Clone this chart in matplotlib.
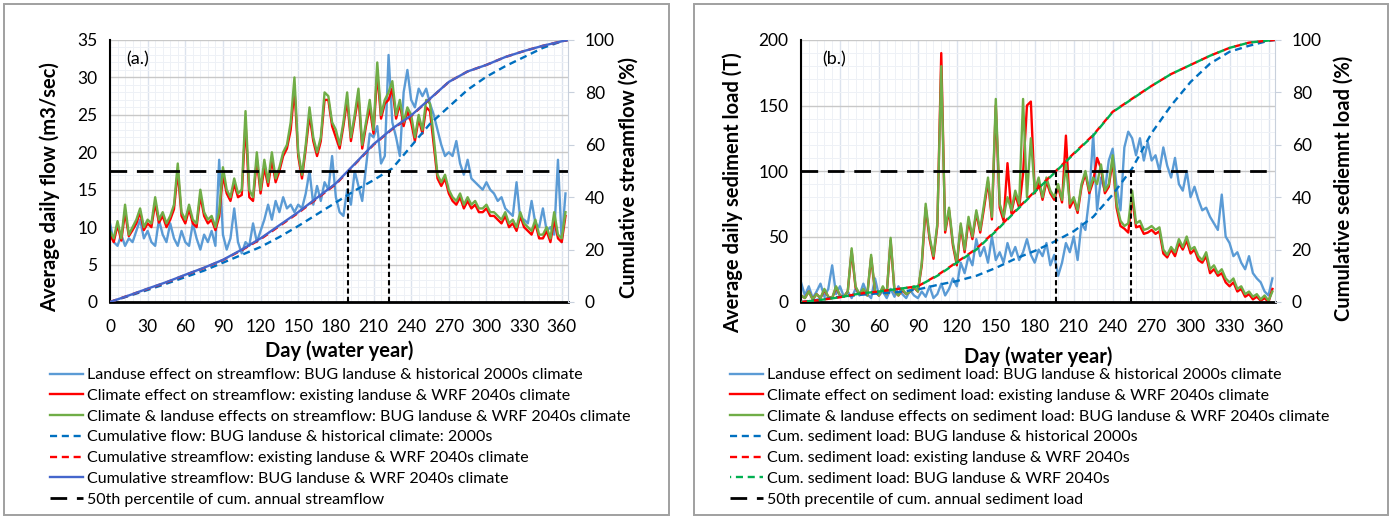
import numpy as np
import matplotlib.pyplot as plt
from matplotlib.patches import Rectangle
from matplotlib.ticker import MultipleLocator

plt.rcParams['font.family'] = ['Lato', 'DejaVu Sans']

# ---- data ----
days = np.arange(0, 366, 3)
cum_days = [0, 15, 30, 45, 60, 75, 90, 105, 120, 135, 150, 165, 180, 195, 210,
            225, 240, 255, 270, 285, 300, 315, 330, 345, 360, 365]

# panel (a) average daily flow, m3/sec
flow_landuse = [10.5, 8.0, 7.5, 9.0, 7.5, 8.5, 8.0, 9.5, 11.0, 8.5,
                9.5, 8.0, 7.5, 11.0, 9.0, 8.0, 10.5, 8.5, 7.5, 9.5,
                8.0, 7.5, 10.5, 8.5, 7.0, 9.0, 8.0, 9.5, 7.5, 19.0,
                9.0, 7.0, 8.5, 12.5, 8.0, 6.5, 8.0, 7.5, 10.5, 8.0,
                9.5, 11.0, 13.0, 11.0, 13.5, 12.0, 14.0, 12.5, 13.0, 12.0,
                13.0, 12.5, 14.5, 17.5, 13.0, 15.5, 13.5, 16.0, 15.0, 19.5,
                14.0, 12.0, 11.5, 15.0, 13.0, 17.5, 15.5, 13.5, 18.0, 22.5,
                22.0, 23.5, 18.5, 19.5, 33.0, 24.0, 22.0, 19.5, 28.0, 31.0,
                27.0, 26.0, 28.5, 27.5, 28.5, 26.5, 25.0, 23.0, 21.0, 19.5,
                20.0, 19.5, 21.5, 18.5, 17.0, 19.0, 16.5, 16.0, 15.5, 15.0,
                16.0, 15.0, 14.5, 13.5, 14.0, 12.5, 12.0, 11.5, 16.0, 11.0,
                11.0, 10.5, 13.5, 10.5, 10.0, 12.5, 9.5, 10.0, 9.0, 19.0,
                8.0, 14.5]
flow_climate = [9.0, 8.0, 10.3, 8.2, 12.0, 8.8, 9.6, 10.5, 12.0, 9.6,
                10.5, 10.0, 13.2, 10.6, 11.5, 10.0, 11.0, 12.4, 17.5, 11.5,
                10.5, 12.4, 10.5, 10.0, 14.2, 11.5, 10.5, 11.0, 9.6, 11.4,
                17.0, 14.5, 13.5, 15.8, 14.0, 14.3, 24.0, 14.0, 13.5, 19.0,
                14.5, 18.0, 15.5, 19.0, 16.0, 17.5, 19.5, 20.5, 23.0, 28.5,
                19.5, 16.5, 20.5, 25.0, 21.5, 19.5, 21.5, 27.0, 27.0, 23.5,
                22.0, 20.5, 23.5, 27.0, 21.5, 24.5, 27.5, 20.5, 23.5, 26.0,
                22.5, 30.7, 24.5, 26.5, 27.0, 28.5, 24.5, 26.5, 23.5, 25.5,
                24.0, 21.5, 24.5, 22.5, 26.0, 25.5, 21.0, 16.5, 15.5, 16.5,
                14.5, 13.5, 13.0, 14.0, 12.5, 13.5, 12.5, 13.0, 12.0, 12.0,
                12.5, 11.5, 11.5, 11.0, 10.5, 11.5, 10.0, 10.5, 9.5, 11.5,
                10.0, 9.5, 9.0, 10.5, 8.5, 8.5, 9.5, 8.0, 11.0, 8.5,
                8.0, 11.5]
flow_both = [9.5, 8.5, 10.8, 8.5, 13.0, 9.0, 10.0, 11.0, 12.5, 10.0,
             11.0, 10.5, 14.0, 11.0, 12.0, 10.5, 11.5, 13.0, 18.5, 12.0,
             11.0, 13.0, 11.0, 10.5, 15.0, 12.0, 11.0, 11.5, 10.0, 12.0,
             18.0, 15.0, 14.0, 16.5, 14.5, 15.0, 25.5, 15.0, 14.0, 20.0,
             15.0, 19.0, 16.0, 20.0, 16.5, 18.0, 20.0, 21.0, 24.0, 30.0,
             20.0, 17.0, 21.0, 26.0, 22.0, 20.0, 22.0, 28.0, 27.5, 24.0,
             23.0, 21.0, 24.0, 28.0, 22.0, 25.0, 28.5, 21.0, 24.0, 27.0,
             23.0, 32.0, 25.0, 27.0, 28.0, 29.5, 25.0, 27.0, 24.0, 26.0,
             25.0, 22.0, 25.0, 23.0, 27.0, 26.5, 22.0, 17.0, 16.0, 17.0,
             15.0, 14.0, 13.5, 14.5, 13.0, 14.0, 13.0, 13.5, 12.5, 12.5,
             13.0, 12.0, 12.0, 11.5, 11.0, 12.0, 10.5, 11.0, 10.0, 12.0,
             10.5, 10.0, 9.5, 11.0, 9.0, 9.0, 10.0, 8.5, 12.0, 9.0,
             8.5, 12.0]

# panel (a) cumulative streamflow, %
cumflow_hist = [0, 2.3, 4.6, 7.0, 9.5, 12.0, 15.0, 18.0, 21.0, 24.8, 29.0, 33.5, 38.0,
                42.5, 46.5, 51.0, 59.5, 68.0, 74.5, 81.0, 86.0, 90.0, 93.5, 97.0, 99.5, 100]
cumflow_climate = [0, 2.5, 5.0, 7.5, 10.3, 13.0, 16.0, 19.8, 24.0, 29.0, 34.0, 39.5, 45.0,
                   52.5, 60.0, 66.0, 71.0, 77.5, 84.0, 88.0, 90.5, 93.5, 95.8, 97.8, 99.5, 100]
cumflow_both = [0, 2.5, 5.1, 7.6, 10.4, 13.1, 16.1, 20.0, 24.3, 29.3, 34.3, 39.8, 45.3,
                52.7, 60.2, 66.2, 71.2, 77.6, 84.0, 88.0, 90.5, 93.5, 95.8, 97.8, 99.5, 100]
half_days_a = [190, 222]

# panel (b) average daily sediment load, T
sed_landuse = [15, 5, 12, 3, 8, 14, 4, 10, 28, 6,
               12, 4, 8, 3, 10, 5, 14, 6, 3, 18,
               5, 8, 3, 10, 4, 12, 6, 3, 9, 5,
               3, 8, 4, 12, 3, 6, 14, 5, 10, 18,
               12, 30, 22, 35, 28, 48, 35, 42, 30, 50,
               32, 38, 30, 45, 35, 42, 32, 38, 48, 36,
               30, 40, 35, 45, 28, 36, 20, 30, 45, 38,
               50, 32, 60, 55, 80, 128, 70, 95, 85, 108,
               117, 88, 70, 118, 130, 125, 112, 125, 108, 122,
               108, 112, 100, 118, 104, 95, 110, 90, 85, 100,
               80, 88, 78, 70, 72, 65, 60, 55, 82, 50,
               45, 35, 38, 30, 25, 35, 22, 18, 15, 8,
               5, 18]
sed_climate = [5, 3, 8, 2, 6, 3, 9, 4, 3, 11,
               5, 4, 8, 39, 11, 6, 9, 5, 34, 8,
               5, 11, 6, 47, 8, 5, 9, 6, 8, 11,
               8, 28, 72, 48, 33, 58, 190, 53, 70, 43,
               28, 58, 38, 62, 48, 68, 53, 72, 92, 63,
               150, 72, 62, 106, 68, 82, 72, 98, 150, 153,
               83, 92, 78, 92, 83, 78, 88, 76, 127, 72,
               78, 68, 88, 98, 83, 92, 110, 102, 83, 88,
               108, 72, 58, 56, 53, 80, 57, 58, 52, 53,
               55, 52, 54, 37, 34, 40, 35, 45, 40, 47,
               37, 40, 32, 30, 35, 22, 25, 20, 22, 15,
               12, 15, 8, 10, 4, 6, 2, 4, 1, 3,
               0, 10]
sed_both = [5, 3, 8, 2, 6, 3, 10, 4, 3, 12,
            5, 4, 8, 41, 12, 6, 10, 5, 36, 8,
            5, 12, 6, 49, 8, 5, 10, 6, 8, 12,
            8, 30, 75, 50, 35, 60, 180, 55, 72, 45,
            30, 60, 40, 65, 50, 70, 55, 75, 95, 65,
            155, 75, 65, 80, 70, 85, 75, 155, 80, 125,
            85, 95, 80, 95, 85, 80, 90, 78, 105, 75,
            80, 70, 90, 100, 85, 95, 90, 105, 85, 90,
            112, 75, 62, 58, 60, 85, 60, 62, 55, 56,
            58, 55, 57, 40, 36, 42, 38, 48, 42, 50,
            40, 42, 35, 32, 38, 25, 28, 22, 25, 18,
            15, 18, 10, 12, 6, 8, 4, 6, 2, 5,
            1, 8]

# panel (b) cumulative sediment load, %
cumsed_hist = [0, 1.0, 2.0, 2.7, 3.3, 3.8, 4.8, 6.5, 8.0, 10.0, 13.0, 16.5, 19.5,
               23.0, 27.0, 32.5, 41.0, 51.0, 64.5, 75.0, 84.0, 91.0, 95.5, 97.8, 99.7, 100]
cumsed_climate = [0, 0.8, 1.8, 3.2, 4.0, 5.0, 6.0, 10.2, 15.2, 20.3, 27.3, 34.8, 42.2,
                  49.4, 56.7, 63.7, 72.6, 77.6, 82.5, 87.0, 90.5, 94.0, 97.0, 99.0, 99.8, 100]
cumsed_both = [0, 0.8, 1.8, 3.2, 4.0, 5.0, 6.0, 10.0, 15.0, 20.0, 27.0, 34.5, 42.0,
               49.2, 56.5, 63.5, 72.5, 77.5, 82.5, 87.0, 90.5, 94.0, 97.0, 99.0, 99.8, 100]
half_days_b = [196, 254]

light_blue = '#5B9BD5'
red = '#FF0000'
green = '#70AD47'
dash_blue = '#0070C0'
dark_blue = '#4466CC'
green_dash = '#00B050'

W, H = 1391, 519
fig = plt.figure(figsize=(W / 100, H / 100), dpi=100)

# panel frames
for x0, x1 in [(4, 669), (694, 1388)]:
    fig.add_artist(Rectangle((x0 / W, 4 / H), (x1 - x0) / W, 511 / H, transform=fig.transFigure,
                             fill=False, edgecolor='#A0A0A0', lw=1.4))


def style_axes(ax, ax2, ymax, ystep):
    ax.set_xlim(0, 365)
    ax.set_ylim(0, ymax)
    ax2.set_ylim(0, 100)
    ax.set_xticks(range(0, 361, 30))
    ax.yaxis.set_major_locator(MultipleLocator(ystep))
    ax.xaxis.set_minor_locator(MultipleLocator(6))
    ax.yaxis.set_minor_locator(MultipleLocator(ystep / 5))
    ax2.yaxis.set_major_locator(MultipleLocator(20))
    ax.grid(axis='y', which='major', color='#C8C8C8', lw=1.0)
    ax.grid(axis='x', which='major', color='#DCE3EE', lw=1.0)
    ax.grid(which='minor', color='#EEF1F6', lw=0.7)
    ax.set_axisbelow(True)
    ax.tick_params(axis='both', which='both', length=0, labelsize=12.5)
    ax.tick_params(axis='y', pad=9)
    ax.tick_params(axis='x', pad=12)
    ax2.tick_params(axis='y', length=4, color='#C8D0DC', labelsize=12.5, pad=8)
    ax.spines['top'].set_visible(False)
    ax.spines['right'].set_visible(False)
    ax2.spines['top'].set_visible(False)
    ax2.spines['right'].set_color('#C8D0DC')
    ax2.spines['left'].set_visible(False)
    ax2.spines['bottom'].set_visible(False)
    ax.spines['left'].set_linewidth(1.5)
    ax.spines['bottom'].set_linewidth(2.0)


leg_kw = dict(loc='upper left', frameon=False, fontsize=11.5, handlelength=2.07,
              handletextpad=0.25, labelspacing=0.41, borderpad=0, borderaxespad=0)

# ---- panel (a) ----
axa = fig.add_axes([110 / W, (H - 302) / H, 458 / W, 262 / H])
axa2 = axa.twinx()
style_axes(axa, axa2, 35, 5)
l1, = axa.plot(days, flow_landuse, color=light_blue, lw=1.7,
               label='Landuse effect on streamflow: BUG landuse & historical 2000s climate')
l2, = axa.plot(days, flow_climate, color=red, lw=1.7,
               label='Climate effect on streamflow: existing landuse & WRF 2040s climate')
l3, = axa.plot(days, flow_both, color=green, lw=1.7,
               label='Climate & landuse effects on streamflow: BUG landuse & WRF 2040s climate')
l4, = axa2.plot(cum_days, cumflow_hist, color=dash_blue, lw=1.7, ls=(0, (3, 2)),
                label='Cumulative flow: BUG landuse & historical climate: 2000s')
l5, = axa2.plot(cum_days, cumflow_climate, color=red, lw=1.7, ls=(0, (3, 2)),
                label='Cumulative streamflow: existing landuse & WRF 2040s climate')
l6, = axa2.plot(cum_days, cumflow_both, color=dark_blue, lw=1.7,
                label='Cumulative streamflow: BUG landuse & WRF 2040s climate')
l7 = axa2.axhline(50, color='black', lw=2, ls=(0, (6, 3.5)),
                  label='50th percentile of cum. annual streamflow')
for d in half_days_a:
    axa2.plot([d, d], [0, 50], color='black', lw=1.5, ls=(0, (2.5, 1.5)))
axa.text(0.035, 0.925, '(a.)', transform=axa.transAxes, fontsize=13, va='center')
axa.set_xlabel('Day (water year)', fontsize=14.5, fontweight='bold')
axa.xaxis.set_label_coords(0.5, -0.148)
axa.set_ylabel('Average daily flow (m3/sec)', fontsize=14.5, fontweight='bold')
axa.yaxis.set_label_coords(-0.11, 0.44)
axa2.set_ylabel('Cumulative streamflow (%)', fontsize=14.5, fontweight='bold')
axa2.yaxis.set_label_coords(1.111, 0.477)
fig.legend(handles=[l1, l2, l3, l4, l5, l6, l7], bbox_to_anchor=(50 / W, 1 - 368 / H), **leg_kw)

# ---- panel (b) ----
axb = fig.add_axes([801 / W, (H - 302) / H, 474 / W, 262 / H])
axb2 = axb.twinx()
style_axes(axb, axb2, 200, 50)
m1, = axb.plot(days, sed_landuse, color=light_blue, lw=1.7,
               label='Landuse effect on sediment load: BUG landuse & historical 2000s climate')
m2, = axb.plot(days, sed_climate, color=red, lw=1.7,
               label='Climate effect on sediment load: existing landuse & WRF 2040s climate')
m3, = axb.plot(days, sed_both, color=green, lw=1.7,
               label='Climate & landuse effects on sediment load: BUG landuse & WRF 2040s climate')
m4, = axb2.plot(cum_days, cumsed_hist, color=dash_blue, lw=1.7, ls=(0, (3, 2)),
                label='Cum. sediment load: BUG landuse & historical 2000s')
m5, = axb2.plot(cum_days, cumsed_climate, color=red, lw=1.7, ls=(0, (3, 2)),
                label='Cum. sediment load: existing landuse & WRF 2040s')
m6, = axb2.plot(cum_days, cumsed_both, color=green_dash, lw=1.7, ls=(2.5, (3, 2)),
                label='Cum. sediment load: BUG landuse & WRF 2040s')
m7 = axb2.axhline(50, color='black', lw=2, ls=(0, (6, 3.5)),
                  label='50th precentile of cum. annual sediment load')
for d in half_days_b:
    axb2.plot([d, d], [0, 50], color='black', lw=1.5, ls=(0, (2.5, 1.5)))
axb.text(0.045, 0.925, '(b.)', transform=axb.transAxes, fontsize=13, va='center')
axb.set_xlabel('Day (water year)', fontsize=14.5, fontweight='bold')
axb.xaxis.set_label_coords(0.5, -0.168)
axb.set_ylabel('Average daily sediment load (T)', fontsize=14.5, fontweight='bold')
axb.yaxis.set_label_coords(-0.122, 0.416)
axb2.set_ylabel('Cumulative sediemnt load (%)', fontsize=14.5, fontweight='bold')
axb2.yaxis.set_label_coords(1.124, 0.435)
fig.legend(handles=[m1, m2, m3, m4, m5, m6, m7], bbox_to_anchor=(730 / W, 1 - 368 / H), **leg_kw)

fig.savefig('out.png', dpi=100)
